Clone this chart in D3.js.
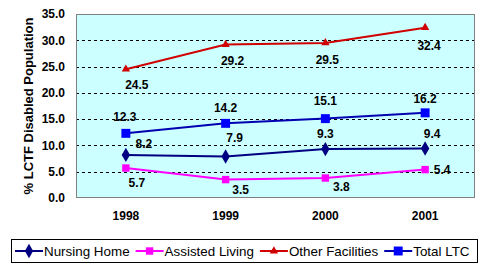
<!DOCTYPE html>
<html>
<head>
<meta charset="utf-8">
<script src="https://cdn.jsdelivr.net/npm/d3@7"></script>
<style>
  body { margin: 0; background: #fff; }
  svg { display: block; font-family: Arial, "Liberation Sans", sans-serif; }
</style>
</head>
<body>
<div id="chart"></div>
<script>
// data
const years = ["1998", "1999", "2000", "2001"];
const nursingHome = [8.2, 7.9, 9.3, 9.4];
const assistedLiving = [5.7, 3.5, 3.8, 5.4];
const otherFacilities = [24.5, 29.2, 29.5, 32.4];
const totalLTC = [12.3, 14.2, 15.1, 16.2];
const yTicks = [0, 5, 10, 15, 20, 25, 30, 35];

const width = 486, height = 272;
const margin = {left: 76, right: 11, top: 14, bottom: 74};

const svg = d3.select("#chart")
  .append("svg")
  .attr("width", width)
  .attr("height", height);

const x = d3.scaleBand()
  .domain(years)
  .range([margin.left, width - margin.right]);

const y = d3.scaleLinear()
  .domain([0, 35])
  .range([height - margin.bottom, margin.top]);

// plot background
svg.append("rect")
  .attr("x", margin.left)
  .attr("y", margin.top)
  .attr("width", width - margin.left - margin.right)
  .attr("height", height - margin.top - margin.bottom)
  .attr("fill", "#ccffff");

// dashed gridlines
svg.append("g")
  .selectAll("line")
  .data(yTicks.filter(d => d > 0 && d < 35))
  .join("line")
    .attr("x1", margin.left)
    .attr("x2", width - margin.right)
    .attr("y1", d => Math.round(y(d)) + 0.5)
    .attr("y2", d => Math.round(y(d)) + 0.5)
    .attr("stroke", "#000")
    .attr("stroke-dasharray", "3,3");

// border
svg.append("rect")
  .attr("x", margin.left + 0.5)
  .attr("y", margin.top + 0.5)
  .attr("width", width - margin.left - margin.right - 1)
  .attr("height", height - margin.top - margin.bottom - 1)
  .attr("fill", "none")
  .attr("stroke", "#808080");

// y axis
svg.append("g")
  .attr("transform", `translate(${margin.left},0)`)
  .style("font-size", "12px")
  .style("font-weight", "bold")
  .call(d3.axisLeft(y).tickValues(yTicks).tickFormat(d3.format(".1f")).tickSize(0).tickPadding(11))
  .call(g => g.select(".domain").remove())
  .selectAll("text")
    .attr("fill", "#000")
    .style("font-family", "Arial, 'Liberation Sans', sans-serif");

// x axis
svg.append("g")
  .attr("transform", `translate(0,${height - margin.bottom})`)
  .style("font-size", "12px")
  .style("font-weight", "bold")
  .call(d3.axisBottom(x).tickSize(0).tickPadding(13))
  .call(g => g.select(".domain").remove())
  .selectAll("text")
    .attr("fill", "#000")
    .style("font-family", "Arial, 'Liberation Sans', sans-serif");

// y axis title
svg.append("text")
  .attr("transform", `translate(33,${(margin.top + height - margin.bottom) / 2}) rotate(-90)`)
  .attr("text-anchor", "middle")
  .style("font-size", "13px")
  .style("font-weight", "bold")
  .text("% LCTF Disabled Population");

// series, label offsets are relative to each point
const series = [
  {name: "Nursing Home", values: nursingHome, color: "#000080", shape: d3.symbolDiamond, size: 60,
   offsets: [[18, -11], [9, -19], [0, -15], [7, -15]]},
  {name: "Assisted Living", values: assistedLiving, color: "#ff00ff", shape: d3.symbolSquare, size: 55,
   offsets: [[11, 15], [15, 10], [16, 9], [17, 0]]},
  {name: "Other Facilities", values: otherFacilities, color: "#d00000", shape: d3.symbolTriangle, size: 30,
   offsets: [[11, 16], [7, 16], [2, 17], [4, 18]]},
  {name: "Total LTC", values: totalLTC, color: "#0000ff", shape: d3.symbolSquare, size: 80,
   offsets: [[-1, -17], [0, -16], [0, -18], [0, -14]]}
];

const cx = d => x(d) + x.bandwidth() / 2;

const line = d3.line()
  .x(d => cx(d.year))
  .y(d => y(d.v));

series.forEach(s => {
  const pts = years.map((yr, i) => ({year: yr, v: s.values[i], off: s.offsets[i]}));
  const g = svg.append("g");
  g.append("path")
    .datum(pts)
    .attr("d", line)
    .attr("fill", "none")
    .attr("stroke", s.name === "Total LTC" ? "#0000b0" : s.color)
    .attr("stroke-width", 2);
  g.selectAll("path.pt")
    .data(pts)
    .join("path")
      .attr("class", "pt")
      .attr("transform", d => `translate(${cx(d.year)},${y(d.v)})`)
      .attr("d", d3.symbol().type(s.shape).size(s.size))
      .attr("fill", s.color);
  g.selectAll("text")
    .data(pts)
    .join("text")
      .attr("x", d => cx(d.year) + d.off[0])
      .attr("y", d => y(d.v) + d.off[1])
      .attr("dy", "0.35em")
      .attr("text-anchor", "middle")
      .style("font-size", "12px")
      .style("font-weight", "bold")
      .text(d => d3.format(".1f")(d.v));
});

// legend
const legend = svg.append("g");
legend.append("rect")
  .attr("x", 11.5)
  .attr("y", 239.5)
  .attr("width", 466)
  .attr("height", 23)
  .attr("fill", "#fff")
  .attr("stroke", "#000");

let lx = 15;
const ly = 251;
series.forEach(s => {
  legend.append("line")
    .attr("x1", lx).attr("x2", lx + 28)
    .attr("y1", ly).attr("y2", ly)
    .attr("stroke", s.name === "Total LTC" ? "#0000b0" : s.color)
    .attr("stroke-width", 2);
  legend.append("path")
    .attr("transform", `translate(${lx + 14},${ly})`)
    .attr("d", d3.symbol().type(s.shape).size(s.size))
    .attr("fill", s.color);
  const t = legend.append("text")
    .attr("x", lx + 29)
    .attr("y", ly)
    .attr("dy", "0.35em")
    .style("font-size", "13.4px")
    .text(s.name);
  lx += 29 + t.node().getComputedTextLength() + 6;
});
</script>
</body>
</html>
